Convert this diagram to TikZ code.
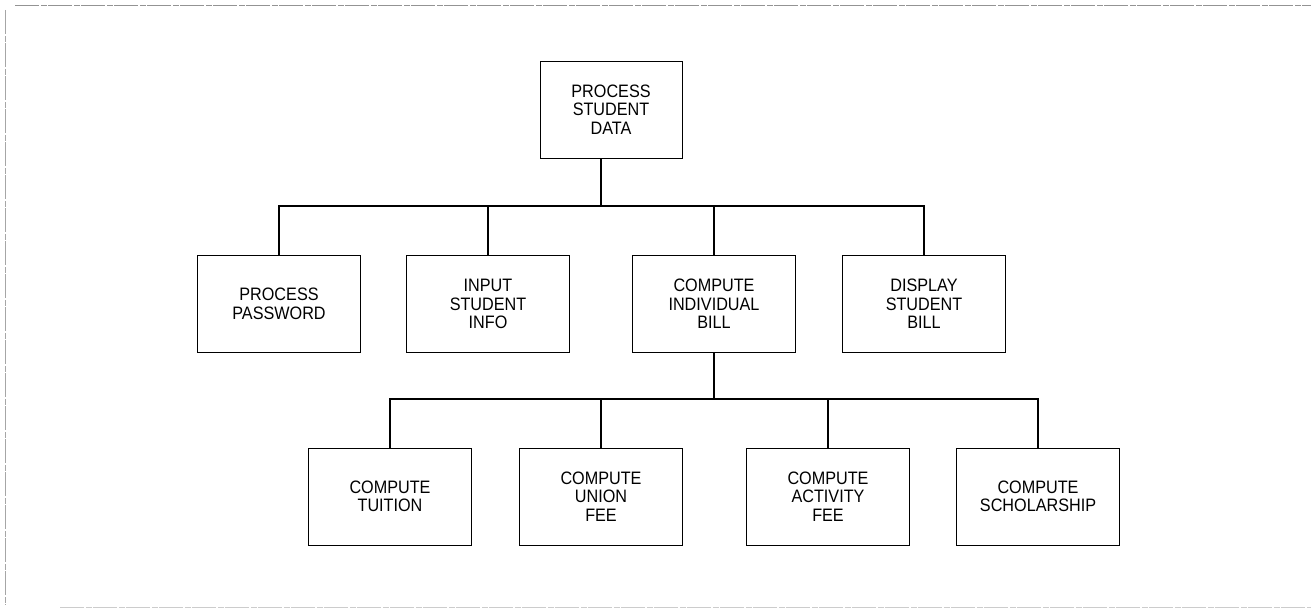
\documentclass[tikz,border=0pt]{standalone}
\usepackage{fontspec}
\setmainfont{Liberation Sans}[FakeStretch=0.9]

\tikzset{
  module/.style={draw, line width=0.9pt, minimum width=163pt, minimum height=97pt,
    inner sep=0pt, align=center, font=\fontsize{18}{18.5}\selectfont},
  link/.style={line width=1.8pt},
  scan/.style={gray!70, line width=0.8pt, dash pattern=on 24pt off 2pt on 6pt off 1pt}
}

\begin{document}
\begin{tikzpicture}[x=1pt, y=-1pt]
  \useasboundingbox (0,0) rectangle (1311,615);
  % faint frame of the scanned page
  \draw[scan, gray!85] (15,5) -- (1311,5);
  \draw[scan] (5,10) -- (5,605);
  \draw[scan, gray!40] (60,607) -- (1311,607);
  % top module
  \node[module, minimum width=142pt] (data) at (611,109.5) {PROCESS\\STUDENT\\DATA};
  % second level
  \node[module] (pw)   at (279,304) {PROCESS\\PASSWORD};
  \node[module] (info) at (488,304) {INPUT\\STUDENT\\INFO};
  \node[module] (bill) at (714,304) {COMPUTE\\INDIVIDUAL\\BILL};
  \node[module] (show) at (924,304) {DISPLAY\\STUDENT\\BILL};
  % third level
  \node[module] (tuition) at (390,496.5)  {COMPUTE\\TUITION};
  \node[module] (union)   at (601,496.5)  {COMPUTE\\UNION\\FEE};
  \node[module] (act)     at (828,496.5)  {COMPUTE\\ACTIVITY\\FEE};
  \node[module] (scholar) at (1038,496.5) {COMPUTE\\SCHOLARSHIP};
  % buses
  \coordinate (busA) at (601,206);
  \coordinate (busB) at (714,399);
  \draw[link] (busA |- data.south) -- (busA);
  \foreach \n in {pw,info,bill,show}
    \draw[link] (busA) -| (\n.north);
  \draw[link] (bill.south) -- (busB);
  \foreach \n in {tuition,union,act,scholar}
    \draw[link] (busB) -| (\n.north);
\end{tikzpicture}
\end{document}
